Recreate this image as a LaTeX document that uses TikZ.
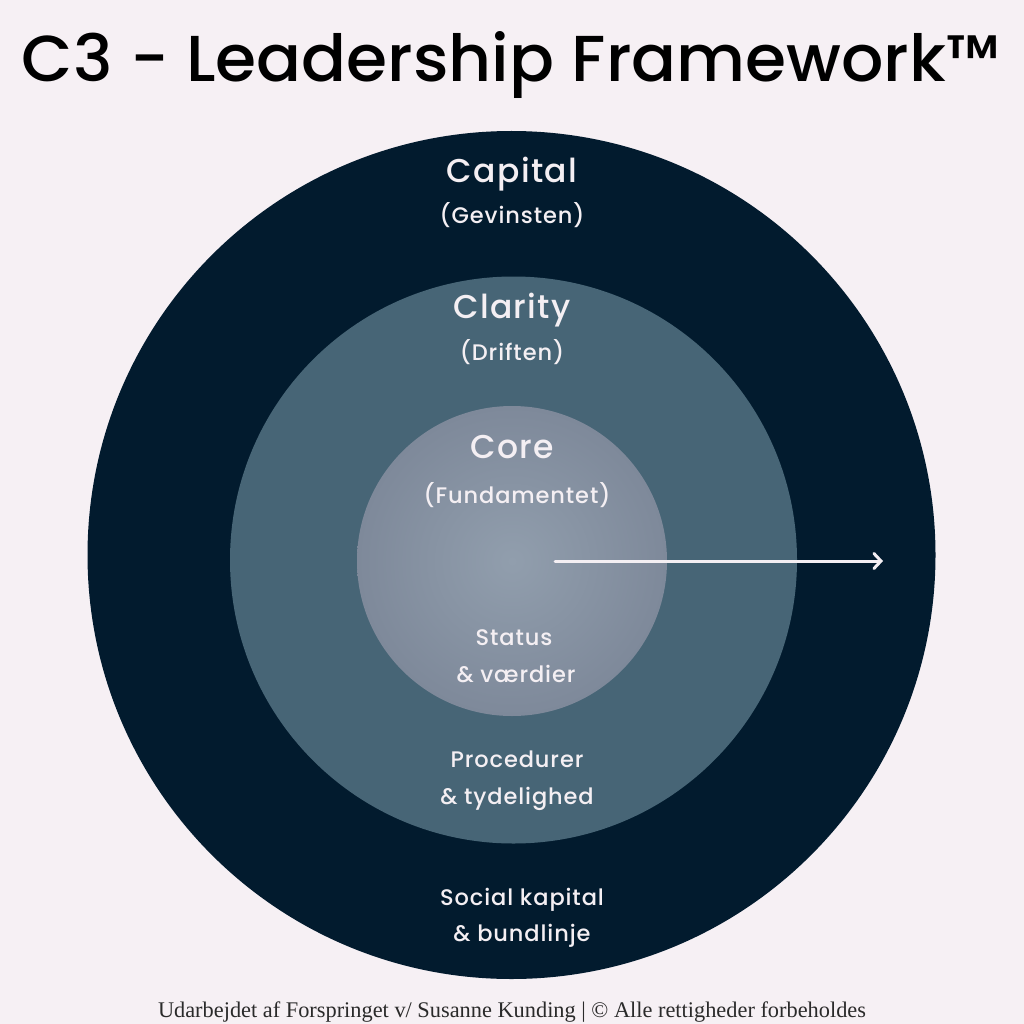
\documentclass[tikz,border=0pt]{standalone}
\usepackage{fontspec}
\setmainfont{Poppins}
\newfontfamily\popmed{Poppins Medium}[LetterSpace=4]
\newfontfamily\popsub{Poppins Medium}[LetterSpace=4]
\newfontfamily\poptitle{Poppins Medium}
\newfontfamily\footfont{Liberation Serif}
\usetikzlibrary{arrows.meta}
\definecolor{bg}{HTML}{F6F0F4}
\definecolor{navy}{HTML}{021B2E}
\definecolor{midblue}{HTML}{476576}
\definecolor{corein}{HTML}{919EAD}
\definecolor{coreout}{HTML}{7E899A}
\definecolor{txt}{HTML}{F4EFF3}
\definecolor{foot}{HTML}{2A2A2A}
\begin{document}
\begin{tikzpicture}[x=1pt,y=-1pt,
  ring/.style={circle,inner sep=0pt,draw=none},
  mainlbl/.style={anchor=base,text=txt,font=\popmed\fontsize{33}{33}\selectfont},
  sublbl/.style={anchor=base,text=txt,font=\popsub\fontsize{22.5}{22.5}\selectfont},
  arrowline/.style={draw=txt,line width=3pt,line cap=round,-{Straight Barb[length=7pt,width=15pt,line cap=round]}}
]
\fill[bg] (0,0) rectangle (1024,1024);
\useasboundingbox (0,0) rectangle (1024,1024);
\node[ring,fill=navy,minimum size=848pt] (outer) at (511.5,555) {};
\node[ring,fill=midblue,minimum size=567pt] (middle) at (513.5,560) {};
\shade[inner color=corein,outer color=coreout] (512,561) circle (155);
\node[ring,minimum size=310pt] (core) at (512,561) {};
\node[anchor=base,inner sep=0pt,font=\poptitle\fontsize{70}{70}\selectfont] (title) at (511,82) {\resizebox{978pt}{50pt}{C3 - Leadership Framework™}};
\node[mainlbl] (capital) at (512,183) {Capital};
\node[sublbl] (gevinsten) at (512,224) {(Gevinsten)};
\node[mainlbl] (clarity) at (512,318) {Clarity};
\node[sublbl] (driften) at (512,360) {(Driften)};
\node[mainlbl] (corelbl) at (512,458) {Core};
\node[sublbl] (fundament) at (517,503) {(Fundamentet)};
\node[sublbl] (status) at (514,645) {Status};
\node[sublbl] (vaerdier) at (516,682) {\& værdier};
\node[sublbl] (procedurer) at (517,767) {Procedurer};
\node[sublbl] (tydelighed) at (517,804) {\& tydelighed};
\node[sublbl] (social) at (522,905) {Social kapital};
\node[sublbl] (bundlinje) at (522,941) {\& bundlinje};
\node[anchor=base,inner sep=0pt,text=foot,font=\footfont\fontsize{22.4}{22.4}\selectfont] (footer) at (512,1017) {\resizebox{708pt}{!}{Udarbejdet af Forspringet v/ Susanne Kunding | © Alle rettigheder forbeholdes}};
\coordinate (arrS) at (555,561);
\coordinate (arrE) at (883,561);
\draw[arrowline] (arrS) -- (arrE);
\end{tikzpicture}
\end{document}
